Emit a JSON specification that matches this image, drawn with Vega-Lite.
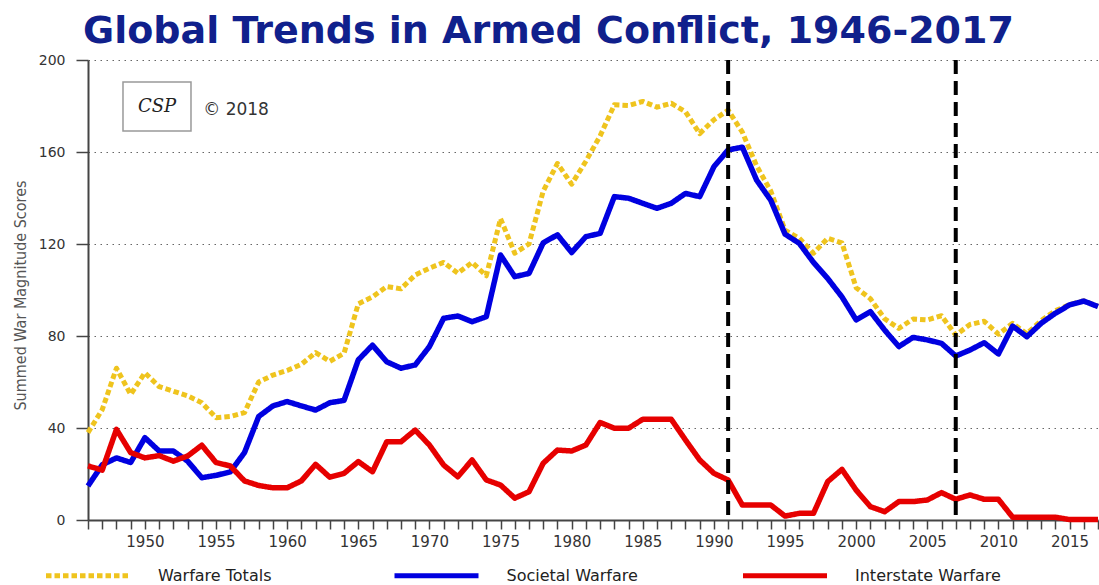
{
  "$schema": "https://vega.github.io/schema/vega-lite/v6.json",
  "width": 1010,
  "height": 460,
  "autosize": {"type": "none"},
  "padding": {"left": 88, "top": 60, "right": 1, "bottom": 65},
  "background": "white",
  "title": {
    "text": "Global Trends in Armed Conflict, 1946-2017",
    "font": "DejaVu Sans",
    "fontWeight": "bold",
    "fontSize": 38,
    "color": "#10208C",
    "anchor": "start",
    "frame": "group",
    "dx": -5,
    "offset": 2
  },
  "config": {
    "view": {"stroke": null},
    "axisX": {
      "grid": false, "tickCount": 200,
      "domainColor": "#444", "domainWidth": 2,
      "tickColor": "#444", "tickWidth": 1.5, "tickSize": 9,
      "labelFont": "DejaVu Sans", "labelFontSize": 15, "labelColor": "#333",
      "labelPadding": 5, "labelOverlap": false, "labelFlush": false
    },
    "axisY": {
      "grid": true, "gridDash": [1.5, 4.5], "gridColor": "#666", "gridWidth": 1,
      "domainColor": "#444", "domainWidth": 2,
      "tickColor": "#444", "tickWidth": 1.5, "tickSize": 12,
      "labelPadding": 11, "labelFont": "DejaVu Sans", "labelFontSize": 14, "labelColor": "#333",
      "titleFont": "DejaVu Sans Condensed, DejaVu Sans", "titleFontSize": 16,
      "titleFontWeight": "normal", "titleColor": "#555",
      "titleX": -68, "titleY": 235, "titleAngle": 270,
      "titleAlign": "center", "titleBaseline": "middle"
    }
  },
  "datasets": {
    "conflict": [
      {"year": 1946, "series": "Warfare Totals", "score": 38},
      {"year": 1947, "series": "Warfare Totals", "score": 48},
      {"year": 1948, "series": "Warfare Totals", "score": 66},
      {"year": 1949, "series": "Warfare Totals", "score": 54.6},
      {"year": 1950, "series": "Warfare Totals", "score": 64},
      {"year": 1951, "series": "Warfare Totals", "score": 58},
      {"year": 1952, "series": "Warfare Totals", "score": 56},
      {"year": 1953, "series": "Warfare Totals", "score": 54},
      {"year": 1954, "series": "Warfare Totals", "score": 51},
      {"year": 1955, "series": "Warfare Totals", "score": 44.5},
      {"year": 1956, "series": "Warfare Totals", "score": 45},
      {"year": 1957, "series": "Warfare Totals", "score": 46.7},
      {"year": 1958, "series": "Warfare Totals", "score": 60},
      {"year": 1959, "series": "Warfare Totals", "score": 63},
      {"year": 1960, "series": "Warfare Totals", "score": 65},
      {"year": 1961, "series": "Warfare Totals", "score": 67.7},
      {"year": 1962, "series": "Warfare Totals", "score": 72.8},
      {"year": 1963, "series": "Warfare Totals", "score": 69},
      {"year": 1964, "series": "Warfare Totals", "score": 72.5},
      {"year": 1965, "series": "Warfare Totals", "score": 94},
      {"year": 1966, "series": "Warfare Totals", "score": 97},
      {"year": 1967, "series": "Warfare Totals", "score": 101.5},
      {"year": 1968, "series": "Warfare Totals", "score": 100.5},
      {"year": 1969, "series": "Warfare Totals", "score": 106.5},
      {"year": 1970, "series": "Warfare Totals", "score": 109.5},
      {"year": 1971, "series": "Warfare Totals", "score": 112},
      {"year": 1972, "series": "Warfare Totals", "score": 107.3},
      {"year": 1973, "series": "Warfare Totals", "score": 112},
      {"year": 1974, "series": "Warfare Totals", "score": 106.2},
      {"year": 1975, "series": "Warfare Totals", "score": 131},
      {"year": 1976, "series": "Warfare Totals", "score": 116},
      {"year": 1977, "series": "Warfare Totals", "score": 120},
      {"year": 1978, "series": "Warfare Totals", "score": 143},
      {"year": 1979, "series": "Warfare Totals", "score": 155},
      {"year": 1980, "series": "Warfare Totals", "score": 146},
      {"year": 1981, "series": "Warfare Totals", "score": 156},
      {"year": 1982, "series": "Warfare Totals", "score": 167},
      {"year": 1983, "series": "Warfare Totals", "score": 180.5},
      {"year": 1984, "series": "Warfare Totals", "score": 180.2},
      {"year": 1985, "series": "Warfare Totals", "score": 182},
      {"year": 1986, "series": "Warfare Totals", "score": 179.5},
      {"year": 1987, "series": "Warfare Totals", "score": 181.2},
      {"year": 1988, "series": "Warfare Totals", "score": 177.5},
      {"year": 1989, "series": "Warfare Totals", "score": 168},
      {"year": 1990, "series": "Warfare Totals", "score": 174},
      {"year": 1991, "series": "Warfare Totals", "score": 178.2},
      {"year": 1992, "series": "Warfare Totals", "score": 168.6},
      {"year": 1993, "series": "Warfare Totals", "score": 154},
      {"year": 1994, "series": "Warfare Totals", "score": 143},
      {"year": 1995, "series": "Warfare Totals", "score": 126},
      {"year": 1996, "series": "Warfare Totals", "score": 122.5},
      {"year": 1997, "series": "Warfare Totals", "score": 116},
      {"year": 1998, "series": "Warfare Totals", "score": 122.5},
      {"year": 1999, "series": "Warfare Totals", "score": 120.5},
      {"year": 2000, "series": "Warfare Totals", "score": 101},
      {"year": 2001, "series": "Warfare Totals", "score": 96.2},
      {"year": 2002, "series": "Warfare Totals", "score": 87.5},
      {"year": 2003, "series": "Warfare Totals", "score": 83.3},
      {"year": 2004, "series": "Warfare Totals", "score": 87.4},
      {"year": 2005, "series": "Warfare Totals", "score": 87},
      {"year": 2006, "series": "Warfare Totals", "score": 88.8},
      {"year": 2007, "series": "Warfare Totals", "score": 80.4},
      {"year": 2008, "series": "Warfare Totals", "score": 85},
      {"year": 2009, "series": "Warfare Totals", "score": 86.4},
      {"year": 2010, "series": "Warfare Totals", "score": 80.8},
      {"year": 2011, "series": "Warfare Totals", "score": 85.5},
      {"year": 2012, "series": "Warfare Totals", "score": 81},
      {"year": 2013, "series": "Warfare Totals", "score": 86.7},
      {"year": 2014, "series": "Warfare Totals", "score": 91},
      {"year": 2015, "series": "Warfare Totals", "score": 93.6},
      {"year": 2016, "series": "Warfare Totals", "score": 95.3},
      {"year": 2017, "series": "Warfare Totals", "score": 92.9},
      {"year": 1946, "series": "Societal Warfare", "score": 14.8},
      {"year": 1947, "series": "Societal Warfare", "score": 24},
      {"year": 1948, "series": "Societal Warfare", "score": 27},
      {"year": 1949, "series": "Societal Warfare", "score": 25},
      {"year": 1950, "series": "Societal Warfare", "score": 35.8},
      {"year": 1951, "series": "Societal Warfare", "score": 30},
      {"year": 1952, "series": "Societal Warfare", "score": 30},
      {"year": 1953, "series": "Societal Warfare", "score": 25.6},
      {"year": 1954, "series": "Societal Warfare", "score": 18.4},
      {"year": 1955, "series": "Societal Warfare", "score": 19.4},
      {"year": 1956, "series": "Societal Warfare", "score": 20.9},
      {"year": 1957, "series": "Societal Warfare", "score": 29.3},
      {"year": 1958, "series": "Societal Warfare", "score": 45},
      {"year": 1959, "series": "Societal Warfare", "score": 49.6},
      {"year": 1960, "series": "Societal Warfare", "score": 51.5},
      {"year": 1961, "series": "Societal Warfare", "score": 49.6},
      {"year": 1962, "series": "Societal Warfare", "score": 47.8},
      {"year": 1963, "series": "Societal Warfare", "score": 51},
      {"year": 1964, "series": "Societal Warfare", "score": 52},
      {"year": 1965, "series": "Societal Warfare", "score": 69.6},
      {"year": 1966, "series": "Societal Warfare", "score": 76},
      {"year": 1967, "series": "Societal Warfare", "score": 68.8},
      {"year": 1968, "series": "Societal Warfare", "score": 66},
      {"year": 1969, "series": "Societal Warfare", "score": 67.4},
      {"year": 1970, "series": "Societal Warfare", "score": 75.4},
      {"year": 1971, "series": "Societal Warfare", "score": 87.7},
      {"year": 1972, "series": "Societal Warfare", "score": 88.7},
      {"year": 1973, "series": "Societal Warfare", "score": 86.2},
      {"year": 1974, "series": "Societal Warfare", "score": 88.4},
      {"year": 1975, "series": "Societal Warfare", "score": 115.2},
      {"year": 1976, "series": "Societal Warfare", "score": 105.8},
      {"year": 1977, "series": "Societal Warfare", "score": 107.2},
      {"year": 1978, "series": "Societal Warfare", "score": 120.5},
      {"year": 1979, "series": "Societal Warfare", "score": 124},
      {"year": 1980, "series": "Societal Warfare", "score": 116.3},
      {"year": 1981, "series": "Societal Warfare", "score": 123.2},
      {"year": 1982, "series": "Societal Warfare", "score": 124.6},
      {"year": 1983, "series": "Societal Warfare", "score": 140.6},
      {"year": 1984, "series": "Societal Warfare", "score": 139.9},
      {"year": 1985, "series": "Societal Warfare", "score": 137.7},
      {"year": 1986, "series": "Societal Warfare", "score": 135.5},
      {"year": 1987, "series": "Societal Warfare", "score": 137.7},
      {"year": 1988, "series": "Societal Warfare", "score": 142},
      {"year": 1989, "series": "Societal Warfare", "score": 140.6},
      {"year": 1990, "series": "Societal Warfare", "score": 153.6},
      {"year": 1991, "series": "Societal Warfare", "score": 160.9},
      {"year": 1992, "series": "Societal Warfare", "score": 162.1},
      {"year": 1993, "series": "Societal Warfare", "score": 147.8},
      {"year": 1994, "series": "Societal Warfare", "score": 139},
      {"year": 1995, "series": "Societal Warfare", "score": 124.3},
      {"year": 1996, "series": "Societal Warfare", "score": 120.3},
      {"year": 1997, "series": "Societal Warfare", "score": 112},
      {"year": 1998, "series": "Societal Warfare", "score": 105},
      {"year": 1999, "series": "Societal Warfare", "score": 97},
      {"year": 2000, "series": "Societal Warfare", "score": 87},
      {"year": 2001, "series": "Societal Warfare", "score": 90.6},
      {"year": 2002, "series": "Societal Warfare", "score": 82.6},
      {"year": 2003, "series": "Societal Warfare", "score": 75.4},
      {"year": 2004, "series": "Societal Warfare", "score": 79.4},
      {"year": 2005, "series": "Societal Warfare", "score": 78.3},
      {"year": 2006, "series": "Societal Warfare", "score": 76.8},
      {"year": 2007, "series": "Societal Warfare", "score": 71.3},
      {"year": 2008, "series": "Societal Warfare", "score": 73.9},
      {"year": 2009, "series": "Societal Warfare", "score": 77.1},
      {"year": 2010, "series": "Societal Warfare", "score": 72.2},
      {"year": 2011, "series": "Societal Warfare", "score": 84.3},
      {"year": 2012, "series": "Societal Warfare", "score": 79.7},
      {"year": 2013, "series": "Societal Warfare", "score": 85.5},
      {"year": 2014, "series": "Societal Warfare", "score": 89.9},
      {"year": 2015, "series": "Societal Warfare", "score": 93.5},
      {"year": 2016, "series": "Societal Warfare", "score": 95.2},
      {"year": 2017, "series": "Societal Warfare", "score": 92.8},
      {"year": 1946, "series": "Interstate Warfare", "score": 23.5},
      {"year": 1947, "series": "Interstate Warfare", "score": 21.7},
      {"year": 1948, "series": "Interstate Warfare", "score": 39.4},
      {"year": 1949, "series": "Interstate Warfare", "score": 29.3},
      {"year": 1950, "series": "Interstate Warfare", "score": 27},
      {"year": 1951, "series": "Interstate Warfare", "score": 28},
      {"year": 1952, "series": "Interstate Warfare", "score": 25.6},
      {"year": 1953, "series": "Interstate Warfare", "score": 27.8},
      {"year": 1954, "series": "Interstate Warfare", "score": 32.5},
      {"year": 1955, "series": "Interstate Warfare", "score": 25},
      {"year": 1956, "series": "Interstate Warfare", "score": 23.5},
      {"year": 1957, "series": "Interstate Warfare", "score": 17},
      {"year": 1958, "series": "Interstate Warfare", "score": 15},
      {"year": 1959, "series": "Interstate Warfare", "score": 14},
      {"year": 1960, "series": "Interstate Warfare", "score": 14},
      {"year": 1961, "series": "Interstate Warfare", "score": 17},
      {"year": 1962, "series": "Interstate Warfare", "score": 24.2},
      {"year": 1963, "series": "Interstate Warfare", "score": 18.6},
      {"year": 1964, "series": "Interstate Warfare", "score": 20.3},
      {"year": 1965, "series": "Interstate Warfare", "score": 25.4},
      {"year": 1966, "series": "Interstate Warfare", "score": 21},
      {"year": 1967, "series": "Interstate Warfare", "score": 34},
      {"year": 1968, "series": "Interstate Warfare", "score": 34},
      {"year": 1969, "series": "Interstate Warfare", "score": 39.1},
      {"year": 1970, "series": "Interstate Warfare", "score": 32.6},
      {"year": 1971, "series": "Interstate Warfare", "score": 23.9},
      {"year": 1972, "series": "Interstate Warfare", "score": 18.8},
      {"year": 1973, "series": "Interstate Warfare", "score": 26.1},
      {"year": 1974, "series": "Interstate Warfare", "score": 17.4},
      {"year": 1975, "series": "Interstate Warfare", "score": 15.2},
      {"year": 1976, "series": "Interstate Warfare", "score": 9.5},
      {"year": 1977, "series": "Interstate Warfare", "score": 12.3},
      {"year": 1978, "series": "Interstate Warfare", "score": 24.7},
      {"year": 1979, "series": "Interstate Warfare", "score": 30.4},
      {"year": 1980, "series": "Interstate Warfare", "score": 30},
      {"year": 1981, "series": "Interstate Warfare", "score": 32.6},
      {"year": 1982, "series": "Interstate Warfare", "score": 42.4},
      {"year": 1983, "series": "Interstate Warfare", "score": 39.9},
      {"year": 1984, "series": "Interstate Warfare", "score": 39.9},
      {"year": 1985, "series": "Interstate Warfare", "score": 43.8},
      {"year": 1986, "series": "Interstate Warfare", "score": 43.8},
      {"year": 1987, "series": "Interstate Warfare", "score": 43.8},
      {"year": 1988, "series": "Interstate Warfare", "score": 34.8},
      {"year": 1989, "series": "Interstate Warfare", "score": 26.1},
      {"year": 1990, "series": "Interstate Warfare", "score": 20.3},
      {"year": 1991, "series": "Interstate Warfare", "score": 17.4},
      {"year": 1992, "series": "Interstate Warfare", "score": 6.5},
      {"year": 1993, "series": "Interstate Warfare", "score": 6.5},
      {"year": 1994, "series": "Interstate Warfare", "score": 6.5},
      {"year": 1995, "series": "Interstate Warfare", "score": 1.7},
      {"year": 1996, "series": "Interstate Warfare", "score": 2.9},
      {"year": 1997, "series": "Interstate Warfare", "score": 2.9},
      {"year": 1998, "series": "Interstate Warfare", "score": 16.7},
      {"year": 1999, "series": "Interstate Warfare", "score": 22},
      {"year": 2000, "series": "Interstate Warfare", "score": 13},
      {"year": 2001, "series": "Interstate Warfare", "score": 5.8},
      {"year": 2002, "series": "Interstate Warfare", "score": 3.6},
      {"year": 2003, "series": "Interstate Warfare", "score": 8},
      {"year": 2004, "series": "Interstate Warfare", "score": 8},
      {"year": 2005, "series": "Interstate Warfare", "score": 8.7},
      {"year": 2006, "series": "Interstate Warfare", "score": 11.9},
      {"year": 2007, "series": "Interstate Warfare", "score": 9},
      {"year": 2008, "series": "Interstate Warfare", "score": 10.9},
      {"year": 2009, "series": "Interstate Warfare", "score": 9},
      {"year": 2010, "series": "Interstate Warfare", "score": 9},
      {"year": 2011, "series": "Interstate Warfare", "score": 1.2},
      {"year": 2012, "series": "Interstate Warfare", "score": 1.2},
      {"year": 2013, "series": "Interstate Warfare", "score": 1.2},
      {"year": 2014, "series": "Interstate Warfare", "score": 1.2},
      {"year": 2015, "series": "Interstate Warfare", "score": 0.2},
      {"year": 2016, "series": "Interstate Warfare", "score": 0.2},
      {"year": 2017, "series": "Interstate Warfare", "score": 0.2}
    ],
    "markers": [{"year": 1991}, {"year": 2007}]
  },
  "layer": [
    {
      "data": {"name": "conflict"},
      "transform": [{"filter": "datum.series === 'Warfare Totals'"}],
      "mark": {"type": "line", "strokeWidth": 5, "strokeJoin": "round"},
      "encoding": {
        "x": {
          "field": "year", "type": "quantitative",
          "scale": {"domain": [1946, 2017], "nice": false, "zero": false},
          "axis": {
            "values": [1946,1947,1948,1949,1950,1951,1952,1953,1954,1955,1956,1957,1958,1959,1960,1961,1962,1963,1964,1965,1966,1967,1968,1969,1970,1971,1972,1973,1974,1975,1976,1977,1978,1979,1980,1981,1982,1983,1984,1985,1986,1987,1988,1989,1990,1991,1992,1993,1994,1995,1996,1997,1998,1999,2000,2001,2002,2003,2004,2005,2006,2007,2008,2009,2010,2011,2012,2013,2014,2015,2016,2017],
            "tickCount": 200,
            "format": "d",
            "labelExpr": "datum.value % 5 === 0 ? datum.label : ''",
            "title": null
          }
        },
        "y": {
          "field": "score", "type": "quantitative",
          "scale": {"domain": [0, 200], "nice": false},
          "axis": {
            "values": [0, 40, 80, 120, 160, 200],
            "title": "Summed War Magnitude Scores"
          }
        },
        "color": {
          "field": "series", "type": "nominal",
          "scale": {"domain": ["Warfare Totals", "Societal Warfare", "Interstate Warfare"], "range": ["#EFC41E", "#0000E0", "#E60000"]},
          "legend": {
            "orient": "none", "legendX": -44.5, "legendY": 471,
            "direction": "horizontal", "columns": 3, "gridAlign": "all",
            "columnPadding": 79.5, "padding": 0,
            "symbolType": "stroke", "symbolSize": 7056, "symbolStrokeWidth": 5,
            "labelFont": "DejaVu Sans", "labelFontSize": 16, "labelColor": "#222",
            "labelOffset": 25.5, "labelLimit": 300, "title": null
          }
        },
        "strokeDash": {
          "field": "series", "type": "nominal",
          "scale": {"domain": ["Warfare Totals", "Societal Warfare", "Interstate Warfare"], "range": [[5.5, 3], [1, 0], [1, 0]]},
          "legend": {
            "orient": "none", "legendX": -44.5, "legendY": 471,
            "direction": "horizontal", "columns": 3, "gridAlign": "all",
            "columnPadding": 79.5, "padding": 0,
            "symbolType": "stroke", "symbolSize": 7056, "symbolStrokeWidth": 5,
            "labelFont": "DejaVu Sans", "labelFontSize": 16, "labelColor": "#222",
            "labelOffset": 25.5, "labelLimit": 300, "title": null
          }
        }
      }
    },
    {
      "data": {"name": "conflict"},
      "transform": [{"filter": "datum.series === 'Societal Warfare'"}],
      "mark": {"type": "line", "strokeWidth": 5.5, "strokeJoin": "round"},
      "encoding": {
        "x": {
          "field": "year", "type": "quantitative",
          "axis": {
            "values": [1946,1947,1948,1949,1950,1951,1952,1953,1954,1955,1956,1957,1958,1959,1960,1961,1962,1963,1964,1965,1966,1967,1968,1969,1970,1971,1972,1973,1974,1975,1976,1977,1978,1979,1980,1981,1982,1983,1984,1985,1986,1987,1988,1989,1990,1991,1992,1993,1994,1995,1996,1997,1998,1999,2000,2001,2002,2003,2004,2005,2006,2007,2008,2009,2010,2011,2012,2013,2014,2015,2016,2017],
            "tickCount": 200,
            "format": "d",
            "labelExpr": "datum.value % 5 === 0 ? datum.label : ''",
            "title": null
          }
        },
        "y": {
          "field": "score", "type": "quantitative",
          "axis": {"values": [0, 40, 80, 120, 160, 200], "title": "Summed War Magnitude Scores"}
        },
        "color": {"field": "series", "type": "nominal"},
        "strokeDash": {"field": "series", "type": "nominal"}
      }
    },
    {
      "data": {"name": "conflict"},
      "transform": [{"filter": "datum.series === 'Interstate Warfare'"}],
      "mark": {"type": "line", "strokeWidth": 5.5, "strokeJoin": "round"},
      "encoding": {
        "x": {
          "field": "year", "type": "quantitative",
          "axis": {
            "values": [1946,1947,1948,1949,1950,1951,1952,1953,1954,1955,1956,1957,1958,1959,1960,1961,1962,1963,1964,1965,1966,1967,1968,1969,1970,1971,1972,1973,1974,1975,1976,1977,1978,1979,1980,1981,1982,1983,1984,1985,1986,1987,1988,1989,1990,1991,1992,1993,1994,1995,1996,1997,1998,1999,2000,2001,2002,2003,2004,2005,2006,2007,2008,2009,2010,2011,2012,2013,2014,2015,2016,2017],
            "tickCount": 200,
            "format": "d",
            "labelExpr": "datum.value % 5 === 0 ? datum.label : ''",
            "title": null
          }
        },
        "y": {
          "field": "score", "type": "quantitative",
          "axis": {"values": [0, 40, 80, 120, 160, 200], "title": "Summed War Magnitude Scores"}
        },
        "color": {"field": "series", "type": "nominal"},
        "strokeDash": {"field": "series", "type": "nominal"}
      }
    },
    {
      "data": {"name": "markers"},
      "mark": {"type": "rule", "color": "#000", "strokeWidth": 4, "strokeDash": [14, 7]},
      "encoding": {
        "x": {
          "field": "year", "type": "quantitative",
          "axis": {
            "values": [1946,1947,1948,1949,1950,1951,1952,1953,1954,1955,1956,1957,1958,1959,1960,1961,1962,1963,1964,1965,1966,1967,1968,1969,1970,1971,1972,1973,1974,1975,1976,1977,1978,1979,1980,1981,1982,1983,1984,1985,1986,1987,1988,1989,1990,1991,1992,1993,1994,1995,1996,1997,1998,1999,2000,2001,2002,2003,2004,2005,2006,2007,2008,2009,2010,2011,2012,2013,2014,2015,2016,2017],
            "tickCount": 200,
            "format": "d",
            "labelExpr": "datum.value % 5 === 0 ? datum.label : ''",
            "title": null
          }
        }
      }
    },
    {
      "data": {"values": [{}]},
      "mark": {"type": "rect", "fill": "white", "stroke": "#999", "strokeWidth": 1.5},
      "encoding": {
        "x": {"datum": 1948.46, "type": "quantitative"},
        "x2": {"datum": 1953.24},
        "y": {"datum": 190.4, "type": "quantitative"},
        "y2": {"datum": 169.1}
      }
    },
    {
      "data": {"values": [{}]},
      "mark": {"type": "text", "text": "CSP", "font": "DejaVu Serif", "fontStyle": "italic", "fontSize": 18, "color": "#222", "align": "center", "baseline": "middle"},
      "encoding": {
        "x": {"datum": 1950.85, "type": "quantitative"},
        "y": {"datum": 179.5, "type": "quantitative"}
      }
    },
    {
      "data": {"values": [{}]},
      "mark": {"type": "text", "text": "© 2018", "font": "DejaVu Sans", "fontSize": 17, "color": "#333", "align": "left", "baseline": "middle"},
      "encoding": {
        "x": {"datum": 1954.1, "type": "quantitative"},
        "y": {"datum": 178.3, "type": "quantitative"}
      }
    }
  ]
}
